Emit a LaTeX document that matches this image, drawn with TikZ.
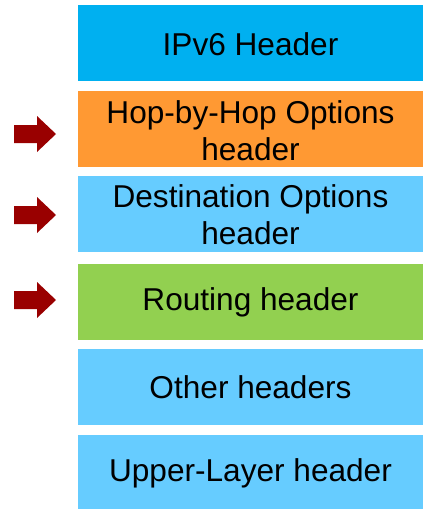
\documentclass[tikz,border=0pt]{standalone}
\usepackage{fontspec}
\setmainfont{Liberation Sans}
\definecolor{ipblue}{HTML}{00B0F0}
\definecolor{hoporange}{HTML}{FF9933}
\definecolor{lightblue}{HTML}{66CCFF}
\definecolor{routegreen}{HTML}{92D050}
\definecolor{arrowred}{HTML}{990000}
\begin{document}
\begin{tikzpicture}[x=1pt,y=-1pt,
  hdrtext/.style={align=center, font=\fontsize{31.6}{36.8}\selectfont, text=black},
  marker/.style={fill=arrowred, draw=none}]
\useasboundingbox (0,0) rectangle (423,509);

% header stack
\fill[ipblue]     (78,5)   rectangle (423,81);
\fill[hoporange]  (78,91)  rectangle (423,167);
\fill[lightblue]  (78,176) rectangle (423,252);
\fill[routegreen] (78,264) rectangle (423,340);
\fill[lightblue]  (78,349) rectangle (423,425);
\fill[lightblue]  (78,435) rectangle (423,509);

\node[hdrtext] (ipv6)  at (250.5,44)  {IPv6 Header};
\node[hdrtext] (hop)   at (250.5,131) {Hop-by-Hop Options\\header};
\node[hdrtext] (dest)  at (250.5,215) {Destination Options\\header};
\node[hdrtext] (route) at (250.5,302) {Routing header};
\node[hdrtext] (other) at (250.5,387) {Other headers};
\node[hdrtext] (upper) at (250.5,473) {Upper-Layer header};

% block arrows pointing at the extension headers
\foreach \cy in {134,215,300} {
  \fill[marker] (14,\cy-9) -- (37,\cy-9) -- (37,\cy-18) -- (56,\cy)
    -- (37,\cy+18) -- (37,\cy+9) -- (14,\cy+9) -- cycle;
}
\end{tikzpicture}
\end{document}
